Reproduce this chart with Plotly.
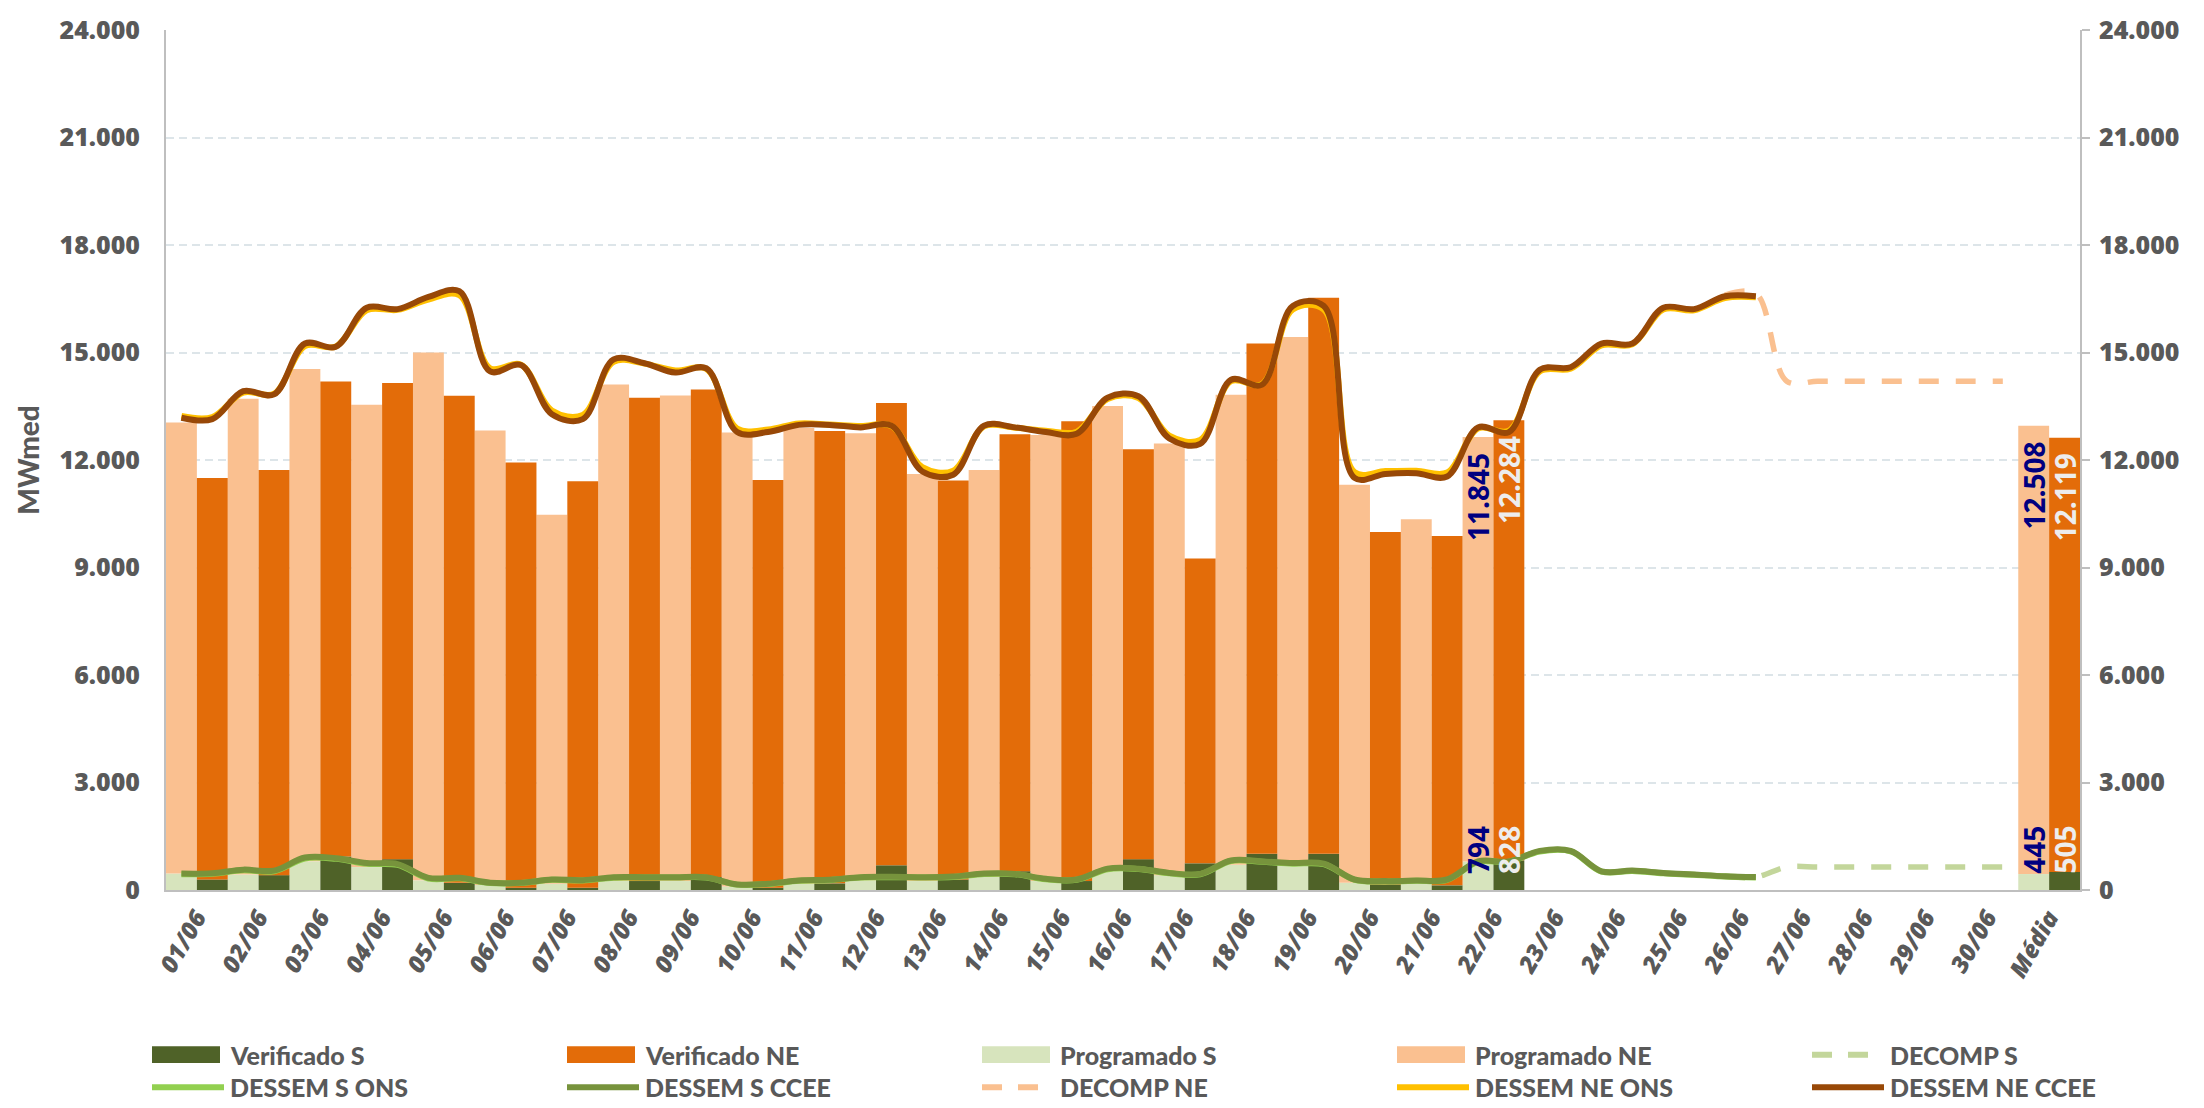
import plotly.graph_objects as go

# ---------------------------------------------------------------- data
categories = ["01/06", "02/06", "03/06", "04/06", "05/06", "06/06", "07/06", "08/06",
              "09/06", "10/06", "11/06", "12/06", "13/06", "14/06", "15/06", "16/06",
              "17/06", "18/06", "19/06", "20/06", "21/06", "22/06", "23/06", "24/06",
              "25/06", "26/06", "27/06", "28/06", "29/06", "30/06", "Média"]

N = None
# daily bars (MWmed); days without data are None, last entry is the monthly mean
programado_s = [460, 430, 800, 640, 270, 140, 175, 250, 250, 100, 175, 275, 250, 365, 250,
                540, 415, 705, 705, 200, 200, 794, N, N, N, N, N, N, N, N, 445]
programado_ne = [12590, 13280, 13740, 12900, 14730, 12680, 10300, 13860, 13550, 12670, 12715,
                 12475, 11360, 11355, 12450, 12970, 12045, 13115, 14725, 11110, 10150, 11845,
                 N, N, N, N, N, N, N, N, 12508]
verificado_s = [295, 415, 935, 860, 200, 65, 65, 250, 365, 65, 185, 690, 295, 525, 250,
                860, 745, 1010, 1010, 155, 130, 828, N, N, N, N, N, N, N, N, 505]
verificado_ne = [11205, 11305, 13255, 13290, 13590, 11865, 11345, 13490, 13605, 11375, 12625,
                 12900, 11135, 12195, 12830, 11440, 8505, 14240, 15520, 9835, 9750, 12284,
                 N, N, N, N, N, N, N, N, 12119]

# forecast lines: two points per day (first and second half of each day)
dessem_ne_ccee = [13180, 13140, 13920, 13830, 15250, 15160, 16250, 16210, 16550, 16710,
                  14470, 14650, 13280, 13140, 14810, 14700, 14440, 14560, 12780, 12780,
                  12980, 12980, 12910, 12960, 11680, 11590, 12960, 12910, 12780, 12730,
                  13740, 13780, 12600, 12450, 14240, 14100, 16300, 16300, 11500, 11610,
                  11630, 11540, 12910, 12780, 14520, 14590, 15250, 15250, 16250, 16210,
                  16570, 16570]
dessem_ne_ons = [13230, 13200, 13880, 13850, 15180, 15170, 16180, 16190, 16480, 16600,
                 14560, 14660, 13380, 13260, 14740, 14690, 14500, 14540, 12880, 12850,
                 13020, 12990, 12950, 12950, 11800, 11700, 12940, 12900, 12820, 12790,
                 13700, 13730, 12680, 12560, 14200, 14120, 16200, 16200, 11660, 11690,
                 11700, 11650, 12880, 12820, 14470, 14550, 15200, 15230, 16200, 16180,
                 16520, 16540]
dessem_s_ccee = [458, 468, 568, 541, 908, 889, 752, 724, 339, 339, 202, 202, 293, 275,
                 358, 358, 358, 358, 156, 174, 266, 284, 358, 367, 358, 376, 458, 449,
                 312, 293, 596, 596, 477, 449, 825, 798, 752, 734, 293, 248, 266, 293,
                 798, 798, 1091, 1091, 523, 541, 477, 431, 385, 360]
dessem_s_ons = [440, 450, 550, 525, 880, 870, 730, 700, 320, 325, 195, 195, 285, 265,
                345, 350, 350, 345, 150, 165, 255, 275, 350, 355, 350, 365, 445, 440,
                300, 285, 580, 585, 465, 440, 810, 785, 735, 720, 285, 240, 258, 285,
                785, 790, 1075, 1080, 515, 530, 465, 425, 375, 350]
decomp_s = [385, 360, 640, 640, 640, 640, 640, 640, 640, 640]
decomp_ne = [16600, 16650, 14200, 14200, 14200, 14200, 14200, 14200, 14200, 14200]

# ---------------------------------------------------------------- styling
C_VER_S, C_VER_NE = "#4F6228", "#E36C09"
C_PRO_S, C_PRO_NE = "#D7E4BD", "#FAC090"
C_DEC_S, C_DES_S_ONS, C_DES_S_CCEE = "#C3D69B", "#92D050", "#77933C"
C_DEC_NE, C_DES_NE_ONS, C_DES_NE_CCEE = "#FAC090", "#FFC000", "#984807"
GREY = "#595959"
AXIS = "#BFBFBF"

W, H = 2204, 1108
ML, MR, MT, MB = 166, 124, 18, 218
PW, PH = W - ML - MR, H - MT - MB


def px_x(p):
    return (p - ML) / PW


def px_y(p):
    return (H - MB - p) / PH


def half_day_x(first, days):
    xs = []
    for d in range(first, first + days):
        xs += [d - 0.25, d + 0.25]
    return xs


idx = list(range(len(categories)))
fig = go.Figure()


def add_bars(name, s_vals, ne_vals, c_s, c_ne, offset):
    fig.add_bar(x=idx, y=s_vals, name=name[0], marker=dict(color=c_s, line_width=0),
                width=0.5, offset=offset, showlegend=False, hoverinfo="skip")
    fig.add_bar(x=idx, y=ne_vals, base=s_vals, name=name[1],
                marker=dict(color=c_ne, line_width=0),
                width=0.5, offset=offset, showlegend=False, hoverinfo="skip")


add_bars(("Programado S", "Programado NE"), programado_s, programado_ne, C_PRO_S, C_PRO_NE, -0.5)
add_bars(("Verificado S", "Verificado NE"), verificado_s, verificado_ne, C_VER_S, C_VER_NE, 0.0)

x_dessem = half_day_x(0, len(dessem_ne_ccee) // 2)
x_decomp = half_day_x(25, len(decomp_ne) // 2)


def add_line(name, xs, ys, color, dash="solid", width=6):
    fig.add_scatter(x=xs, y=ys, name=name, mode="lines", yaxis="y2",
                    line=dict(color=color, width=width, dash=dash, shape="spline", smoothing=1.0),
                    showlegend=False, hoverinfo="skip")


add_line("DECOMP S", x_decomp, decomp_s, C_DEC_S, dash="20px,17px", width=5.5)
add_line("DESSEM S ONS", x_dessem, dessem_s_ons, C_DES_S_ONS)
add_line("DESSEM S CCEE", x_dessem, dessem_s_ccee, C_DES_S_CCEE)
add_line("DECOMP NE", x_decomp, decomp_ne, C_DEC_NE, dash="20px,17px", width=5.5)
add_line("DESSEM NE ONS", x_dessem, dessem_ne_ons, C_DES_NE_ONS)
add_line("DESSEM NE CCEE", x_dessem, dessem_ne_ccee, C_DES_NE_CCEE)

# ---------------------------------------------------------------- value labels
def fmt(v):
    return f"{v:,}".replace(",", ".")


annotations = []
label_font = dict(family="Open Sans", size=28, weight=700)
for i in (21, 30):
    for s_vals, ne_vals, off, col in ((programado_s, programado_ne, -0.25, "#000080"),
                                      (verificado_s, verificado_ne, 0.25, "#EDEDED")):
        annotations.append(dict(x=i + off, y=s_vals[i] + ne_vals[i], xref="x", yref="y",
                                text=fmt(ne_vals[i]), textangle=-90, showarrow=False,
                                xanchor="center", yanchor="top", yshift=-14,
                                font=dict(label_font, color=col)))
        annotations.append(dict(x=i + off, y=0, xref="x", yref="y",
                                text=fmt(s_vals[i]), textangle=-90, showarrow=False,
                                xanchor="center", yanchor="bottom", yshift=14,
                                font=dict(label_font, color=col)))

# ---------------------------------------------------------------- legend
legend_rows = [
    [("Verificado S", "bar", C_VER_S, None), ("Verificado NE", "bar", C_VER_NE, None),
     ("Programado S", "bar", C_PRO_S, None), ("Programado NE", "bar", C_PRO_NE, None),
     ("DECOMP S", "line", C_DEC_S, "20px,16px")],
    [("DESSEM S ONS", "line", C_DES_S_ONS, None), ("DESSEM S CCEE", "line", C_DES_S_CCEE, None),
     ("DECOMP NE", "line", C_DEC_NE, "20px,16px"), ("DESSEM NE ONS", "line", C_DES_NE_ONS, None),
     ("DESSEM NE CCEE", "line", C_DES_NE_CCEE, None)],
]
shapes = []
for r, row in enumerate(legend_rows):
    yc = 1057 + 33 * r
    for c, (label, kind, color, dash) in enumerate(row):
        x0 = 152 + 415 * c
        if kind == "bar":
            shapes.append(dict(type="rect", xref="paper", yref="paper",
                               x0=px_x(x0), x1=px_x(x0 + 68), y0=px_y(yc + 8.5), y1=px_y(yc - 8.5),
                               fillcolor=color, line_width=0))
        else:
            shapes.append(dict(type="line", xref="paper", yref="paper",
                               x0=px_x(x0), x1=px_x(x0 + 72), y0=px_y(yc), y1=px_y(yc),
                               line=dict(color=color, width=6, dash=dash or "solid")))
        annotations.append(dict(x=px_x(x0 + 76), y=px_y(yc), xref="paper", yref="paper",
                                text=label, showarrow=False, xanchor="left", yanchor="middle",
                                font=dict(family="Lato", size=25, weight=900, color=GREY)))

# ---------------------------------------------------------------- layout
tick_font = dict(family="Open Sans", size=25, weight=800, color=GREY)
yaxis_common = dict(range=[0, 24000], tick0=0, dtick=3000, tickformat=",.0f",
                    tickfont=tick_font, zeroline=False, showline=True,
                    linecolor=AXIS, linewidth=2, ticklabeloverflow="allow")

fig.update_layout(
    width=W, height=H,
    margin=dict(l=ML, r=MR, t=MT, b=MB),
    paper_bgcolor="white", plot_bgcolor="white",
    barmode="overlay", separators=",.",
    showlegend=False,
    xaxis=dict(range=[-0.5, len(categories) - 0.5], tickmode="array", tickvals=idx,
               ticktext=categories, tickangle=-60, showgrid=False, zeroline=False,
               showline=True, linecolor=AXIS, linewidth=2, ticks="",
               ticklabelstandoff=2,
               tickfont=dict(family="Open Sans", size=24, weight=800, style="italic",
                             color=GREY)),
    yaxis=dict(yaxis_common, showgrid=True, gridcolor="#DDE5E9", gridwidth=2,
               griddash="8px,5px", ticks="", ticklabelstandoff=19,
               title=dict(text="MWmed", standoff=12,
                          font=dict(family="Lato", size=28, weight=900, color=GREY))),
    yaxis2=dict(yaxis_common, overlaying="y", side="right", showgrid=False,
                ticks="outside", ticklen=8, tickwidth=2, tickcolor=AXIS,
                ticklabelstandoff=4),
    annotations=annotations,
    shapes=shapes,
)

fig.write_html("out.html")
